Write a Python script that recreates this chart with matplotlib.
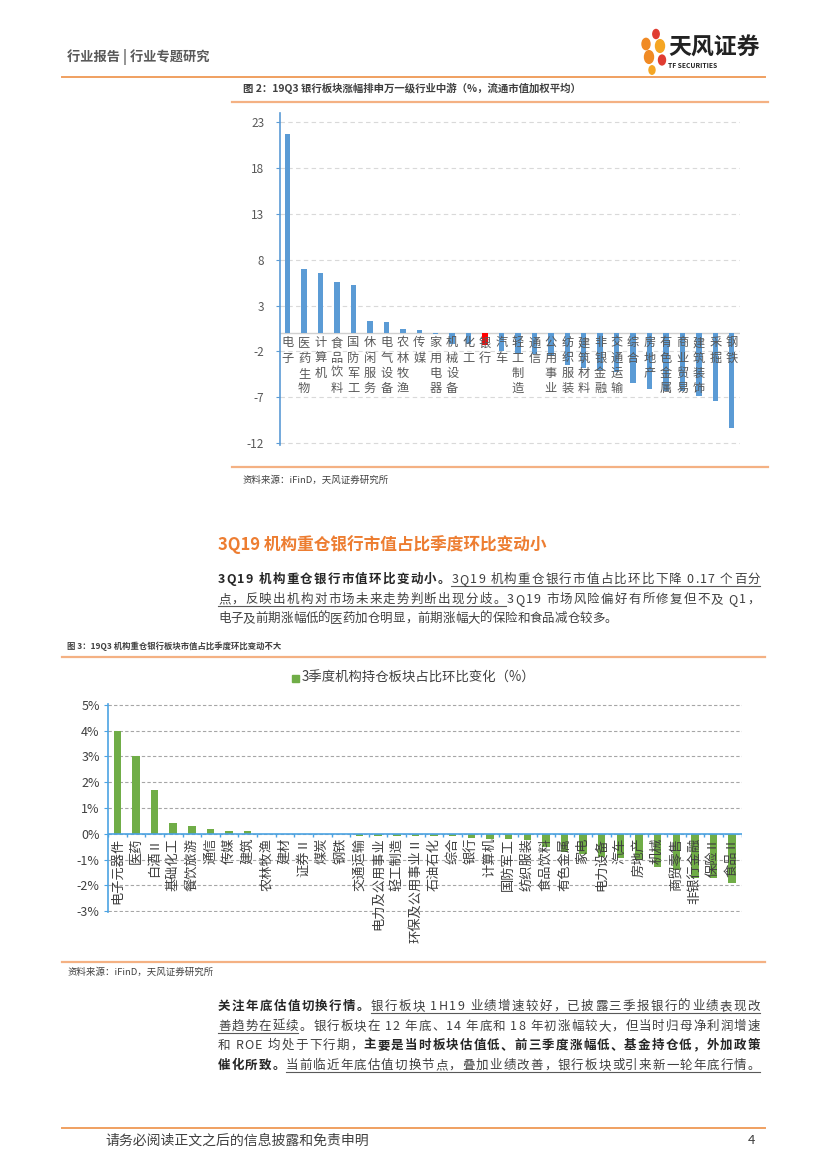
import numpy as np
import matplotlib
matplotlib.use("Agg")
import matplotlib.pyplot as plt
from matplotlib.lines import Line2D
from matplotlib.patches import Rectangle, Circle

plt.rcParams['font.family'] = ['Noto Sans CJK SC', 'DejaVu Sans']

# 图2：申万一级行业 19Q3 涨跌幅（%）
sw_names = ['电子', '医药生物', '计算机', '食品饮料', '国防军工', '休闲服务', '电气设备',
            '农林牧渔', '传媒', '家用电器', '机械设备', '化工', '银行', '汽车', '轻工制造',
            '通信', '公用事业', '纺织服装', '建筑材料', '非银金融', '交通运输', '综合',
            '房地产', '有色金属', '商业贸易', '建筑装饰', '采掘', '钢铁']
sw_vals = [21.7, 7.0, 6.5, 5.6, 5.3, 1.3, 1.2, 0.4, 0.3, -0.05, -1.2, -1.2, -1.3, -2.0,
           -2.3, -2.3, -2.5, -3.5, -3.8, -4.0, -4.2, -5.45, -6.1, -6.3, -6.3, -6.9, -7.4, -10.4]
sw_yticks = [-12, -7, -2, 3, 8, 13, 18, 23]

# 图3：3季度机构持仓板块占比环比变化（%）
inst_names = ['电子元器件', '医药', '白酒Ⅱ', '基础化工', '餐饮旅游', '通信', '传媒', '建筑',
              '农林牧渔', '建材', '证券Ⅱ', '煤炭', '钢铁', '交通运输', '电力及公用事业',
              '轻工制造', '环保及公用事业Ⅱ', '石油石化', '综合', '银行', '计算机', '国防军工',
              '纺织服装', '食品饮料', '有色金属', '家电', '电力设备', '汽车', '房地产', '机械',
              '商贸零售', '非银行金融', '保险Ⅱ', '食品Ⅱ']
inst_vals = [4.0, 3.0, 1.7, 0.4, 0.3, 0.2, 0.1, 0.1, 0.0, 0.0, 0.0, 0.0, 0.0, -0.1, -0.1,
             -0.1, -0.1, -0.1, -0.1, -0.17, -0.2, -0.2, -0.25, -0.5, -0.7, -0.8, -0.9, -0.95,
             -1.0, -1.3, -1.4, -1.7, -1.7, -1.9]
inst_yticks = [-3, -2, -1, 0, 1, 2, 3, 4, 5]

W, H, DPI = 827, 1169, 100
fig = plt.figure(figsize=(W / DPI, H / DPI), dpi=DPI)
renderer = fig.canvas.get_renderer()

ORANGE = '#F4B183'
HEAD = '#ED7D31'
GRAY = '#404040'


def fx(x):
    return x / W


def fy(y):
    return 1 - y / H


def hline(y, x0, x1, color=ORANGE, lw=1.6):
    fig.add_artist(Line2D([fx(x0), fx(x1)], [fy(y), fy(y)], color=color, lw=lw))


_wcache = {}


def char_w(ch, size, weight):
    key = (ch, size, weight)
    if key not in _wcache:
        def w(s):
            t = fig.text(0, 0, s, fontsize=size, fontweight=weight)
            bb = t.get_window_extent(renderer)
            t.remove()
            return bb.width
        _wcache[key] = w('国' + ch + '国') - w('国国')
    return _wcache[key]


def draw_line(runs, x0, y, x1=None, size=9):
    """runs: list of (text, bold, underline); y is baseline in px."""
    chars = []
    for txt, bold, ul in runs:
        for ch in txt:
            chars.append((ch, bold, ul))
    widths = [char_w(c, size, 'bold' if b else 'normal') for c, b, u in chars]
    extra = 0
    if x1 is not None and len(chars) > 1:
        extra = (x1 - x0 - sum(widths)) / (len(chars) - 1)
    x = x0
    seg = None
    for (ch, b, u), w in zip(chars, widths):
        if ch != ' ':
            fig.text(fx(x), fy(y), ch, fontsize=size, va='baseline', ha='left',
                     fontweight='bold' if b else 'normal',
                     color='#262626' if b else GRAY)
        if u:
            if seg is None:
                seg = [x, x + w]
            else:
                seg[1] = x + w
        elif seg is not None:
            hline(y + 3, seg[0], seg[1], color='#595959', lw=0.8)
            seg = None
        x += w + extra
    if seg is not None:
        hline(y + 3, seg[0], seg[1], color='#595959', lw=0.8)


# ---------------- 页眉 / 页脚 ----------------
fig.text(fx(67), fy(57), '行业报告 | 行业专题研究', fontsize=9.5, fontweight='bold',
         color='#595959', va='center')
hline(77, 62, 765, color='#F0A060', lw=1.4)
# logo
for cx, cy, r, c in [(656, 34, 3.2, '#E03C31'), (646, 44, 4.0, '#F08A24'),
                     (660, 46, 4.5, '#F5A623'), (649, 57, 4.5, '#F08A24'),
                     (662, 60, 3.5, '#E03C31'), (652, 70, 3.0, '#F5A623')]:
    fig.add_artist(Circle((fx(cx), fy(cy)), r / W, color=c,
                          transform=fig.transFigure))
fig.text(fx(668), fy(48), '天风证券', fontsize=16.5, fontweight='bold', color='#222222',
         va='center')
fig.text(fx(668), fy(65), 'TF SECURITIES', fontsize=4.8, color='#222222', va='center',
         fontweight='bold')

hline(1128, 62, 765, color='#F0A060', lw=1.4)
fig.text(fx(105), fy(1141), '请务必阅读正文之后的信息披露和免责申明', fontsize=10,
         color=GRAY, va='center')
fig.text(fx(755), fy(1141), '4', fontsize=9.5, color=GRAY, va='center', ha='right')

# ---------------- 图 2 ----------------
fig.text(fx(243), fy(88), '图 2：19Q3 银行板块涨幅排申万一级行业中游（%，流通市值加权平均）',
         fontsize=7.5, fontweight='bold', color=GRAY, va='center')
hline(102, 232, 768)
hline(467, 232, 768)
fig.text(fx(243), fy(480), '资料来源：iFinD，天风证券研究所', fontsize=6.8, color=GRAY,
         va='center')

ax1 = fig.add_axes([fx(279.5), fy(445), (740 - 279.5) / W, (445 - 113) / H])
x1 = np.arange(len(sw_names))
colors1 = ['#FF0000' if n == '银行' else '#5B9BD5' for n in sw_names]
ax1.bar(x1, sw_vals, width=0.33, color=colors1, zorder=3)
ax1.set_xlim(-0.5, len(sw_names) - 0.5)
ax1.set_ylim(-12.2, 24)
ax1.set_yticks(sw_yticks)
ax1.set_yticklabels([str(v) for v in sw_yticks])
ax1.tick_params(axis='y', colors='#5B9BD5', labelcolor='#595959', labelsize=8.5,
                length=3, pad=8)
ax1.set_xticks([])
ax1.yaxis.grid(True, ls=(0, (4, 3)), color='#D9D9D9', lw=0.8)
ax1.axhline(0, color='#D0D0D0', lw=1, zorder=2)
for s in ['top', 'right', 'bottom']:
    ax1.spines[s].set_visible(False)
ax1.spines['left'].set_color('#5B9BD5')
ax1.spines['left'].set_linewidth(1.2)
ax1.set_facecolor('none')
for i, n in enumerate(sw_names):
    ax1.text(i, -0.35, '\n'.join(n), ha='center', va='top', fontsize=8.8,
             color='#595959', linespacing=1.22, zorder=4)

# ---------------- 正文 ----------------
fig.text(fx(218), fy(545), '3Q19 机构重仓银行市值占比季度环比变动小', fontsize=12,
         fontweight='bold', color=HEAD, va='center')

draw_line([('3Q19 机构重仓银行市值环比变动小。', True, False),
           ('3Q19 机构重仓银行市值占比环比下降 0.17 个百分', False, True)], 218, 583, 760)
draw_line([('点，反映出机构对市场未来走势判断出现分歧。', False, True),
           ('3Q19 市场风险偏好有所修复但不及 Q1，', False, False)], 218, 603, 760)
draw_line([('电子及前期涨幅低的医药加仓明显，前期涨幅大的保险和食品减仓较多。', False, False)],
          218, 622, 617)

# ---------------- 图 3 ----------------
fig.text(fx(67), fy(646), '图 3：19Q3 机构重仓银行板块市值占比季度环比变动不大',
         fontsize=6.0, fontweight='bold', color=GRAY, va='center')
hline(657, 62, 765)
hline(962, 62, 765)
fig.text(fx(67), fy(972), '资料来源：iFinD，天风证券研究所', fontsize=6.8, color=GRAY,
         va='center')

fig.add_artist(Rectangle((fx(292), fy(682)), 7 / W, 7 / H, color='#70AD47',
                         transform=fig.transFigure))
fig.text(fx(302), fy(678), '3季度机构持仓板块占比环比变化（%）', fontsize=9.6,
         color=GRAY, va='center')

ax2 = fig.add_axes([fx(108), fy(912.3), (741.5 - 108) / W, (912.3 - 703.7) / H])
x2 = np.arange(len(inst_names))
ax2.bar(x2, inst_vals, width=0.4, color='#70AD47', zorder=3)
ax2.set_xlim(-0.5, len(inst_names) - 0.5)
ax2.set_ylim(-3.05, 5.05)
ax2.set_yticks(inst_yticks)
ax2.set_yticklabels(['%d%%' % v for v in inst_yticks])
ax2.tick_params(axis='y', colors='#4BA3E3', labelcolor=GRAY, labelsize=9, length=3,
                pad=3)
ax2.set_xticks([])
ax2.yaxis.grid(True, ls=(0, (3, 2)), color='#A6A6A6', lw=0.8)
for s in ['top', 'right', 'bottom']:
    ax2.spines[s].set_visible(False)
ax2.spines['left'].set_color('#4BA3E3')
ax2.spines['left'].set_linewidth(1.2)
ax2.axhline(0, color='#4BA3E3', lw=1.2, zorder=4)
ax2.vlines(np.arange(len(inst_names) + 1) - 0.5, -0.12, 0, color='#4BA3E3', lw=1,
           zorder=4)
ax2.set_facecolor('none')
for i, n in enumerate(inst_names):
    ax2.text(i, -0.15, n, rotation=90, ha='center', va='top', fontsize=9.5,
             color=GRAY, zorder=5)

# ---------------- 正文 2 ----------------
draw_line([('关注年底估值切换行情。', True, False),
           ('银行板块 1H19 业绩增速较好，已披露三季报银行的业绩表现改', False, True)],
          218, 1010, 760)
draw_line([('善趋势在延续', False, True),
           ('。银行板块在 12 年底、14 年底和 18 年初涨幅较大，但当时归母净利润增速', False, False)],
          218, 1030, 760)
draw_line([('和 ROE 均处于下行期，', False, False),
           ('主要是当时板块估值低、前三季度涨幅低、基金持仓低，外加政策', True, False)],
          218, 1049, 760)
draw_line([('催化所致。', True, False),
           ('当前临近年底估值切换节点，叠加业绩改善，银行板块或引来新一轮年底行情。', False, True)],
          218, 1069, 760)

fig.savefig('out.png', dpi=DPI)
